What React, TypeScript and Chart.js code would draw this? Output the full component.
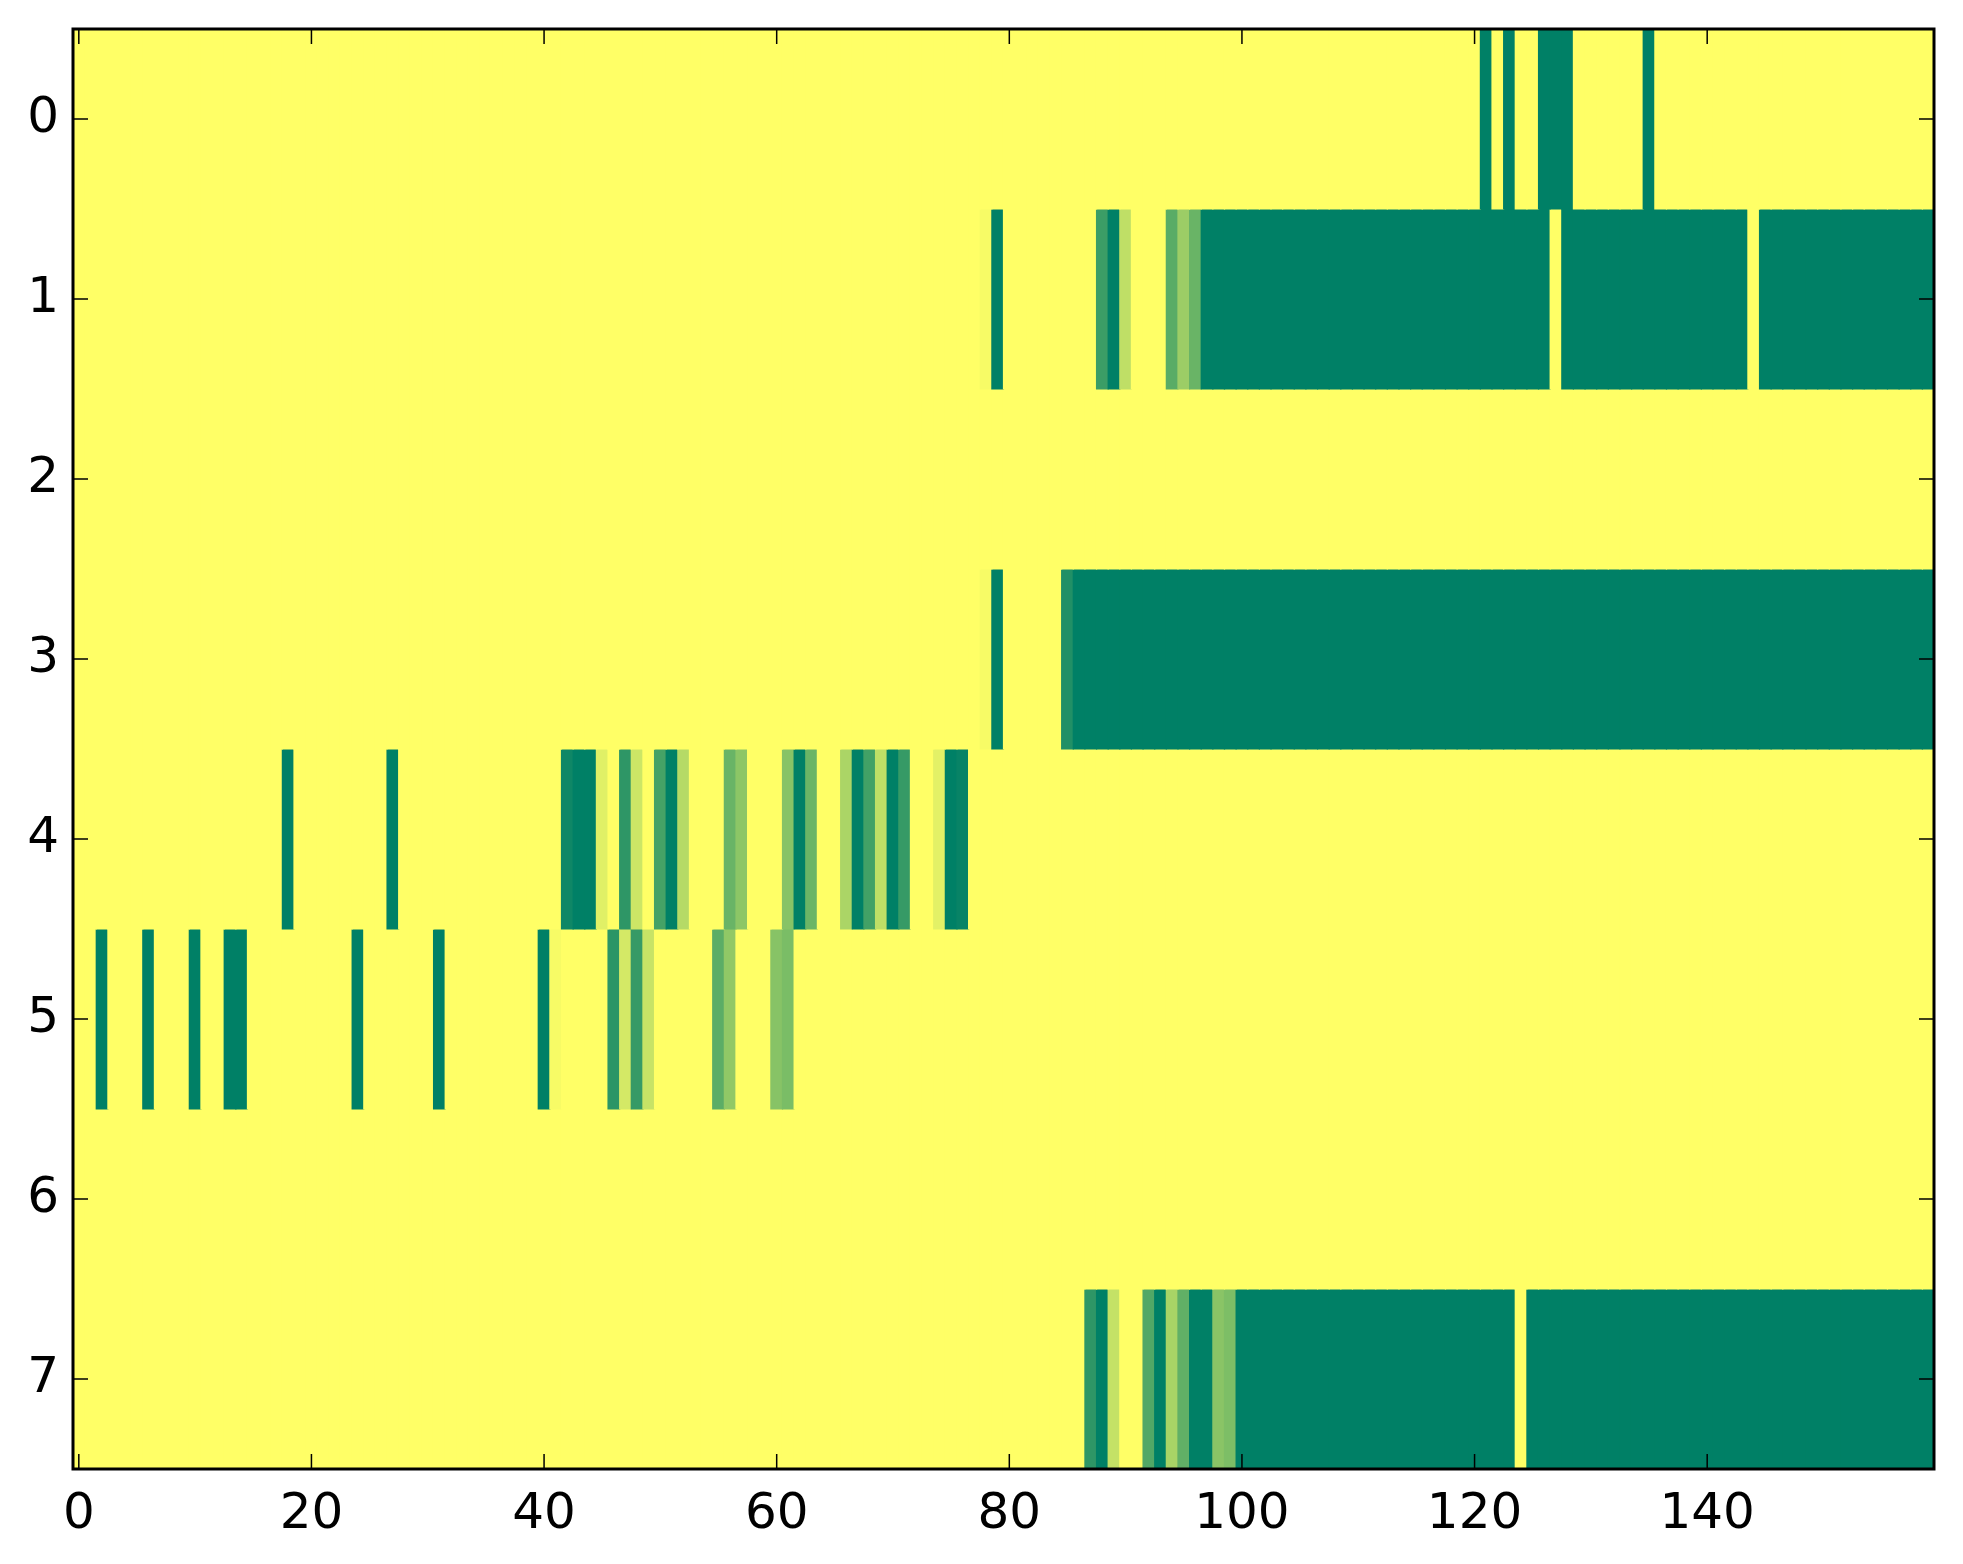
import React, { useEffect, useRef } from "react";
import { Chart, registerables } from "chart.js";

Chart.register(...registerables);

// Tick labels
const X_TICKS = [0, 20, 40, 60, 80, 100, 120, 140];
const Y_TICKS = [0, 1, 2, 3, 4, 5, 6, 7];

// Cell values per row (160 columns each), 0 = yellow, 1 = green
const row0 = [
  0,0,0,0,0,0,0,0,0,0,0,0,0,0,0,0,0,0,0,0,
  0,0,0,0,0,0,0,0,0,0,0,0,0,0,0,0,0,0,0,0,
  0,0,0,0,0,0,0,0,0,0,0,0,0,0,0,0,0,0,0,0,
  0,0,0,0,0,0,0,0,0,0,0,0,0,0,0,0,0,0,0,0,
  0,0,0,0,0,0,0,0,0,0,0,0,0,0,0,0,0,0,0,0,
  0,0,0,0,0,0,0,0,0,0,0,0,0,0,0,0,0,0,0,0,
  0,1,0,1,0,0,1,1,1,0,0,0,0,0,0,1,0,0,0,0,
  0,0,0,0,0,0,0,0,0,0,0,0,0,0,0,0,0,0,0,0,
];
const row1 = [
  0,0,0,0,0,0,0,0,0,0,0,0,0,0,0,0,0,0,0,0,
  0,0,0,0,0,0,0,0,0,0,0,0,0,0,0,0,0,0,0,0,
  0,0,0,0,0,0,0,0,0,0,0,0,0,0,0,0,0,0,0,0,
  0,0,0,0,0,0,0,0,0,0,0,0,0,0,0,0,0,0,0.03,1,
  0,0,0,0,0,0,0,0,0.77,1,0.25,0,0,0,0.65,0.39,0.59,1,1,1,
  1,1,1,1,1,1,1,1,1,1,1,1,1,1,1,1,1,1,1,1,
  1,1,1,1,1,1,1,0,1,1,1,1,1,1,1,1,1,1,1,1,
  1,1,1,1,0,1,1,1,1,1,1,1,1,1,1,1,1,1,1,1,
];
const row2 = [
  0,0,0,0,0,0,0,0,0,0,0,0,0,0,0,0,0,0,0,0,
  0,0,0,0,0,0,0,0,0,0,0,0,0,0,0,0,0,0,0,0,
  0,0,0,0,0,0,0,0,0,0,0,0,0,0,0,0,0,0,0,0,
  0,0,0,0,0,0,0,0,0,0,0,0,0,0,0,0,0,0,0,0,
  0,0,0,0,0,0,0,0,0,0,0,0,0,0,0,0,0,0,0,0,
  0,0,0,0,0,0,0,0,0,0,0,0,0,0,0,0,0,0,0,0,
  0,0,0,0,0,0,0,0,0,0,0,0,0,0,0,0,0,0,0,0,
  0,0,0,0,0,0,0,0,0,0,0,0,0,0,0,0,0,0,0,0,
];
const row3 = [
  0,0,0,0,0,0,0,0,0,0,0,0,0,0,0,0,0,0,0,0,
  0,0,0,0,0,0,0,0,0,0,0,0,0,0,0,0,0,0,0,0,
  0,0,0,0,0,0,0,0,0,0,0,0,0,0,0,0,0,0,0,0,
  0,0,0,0,0,0,0,0,0,0,0,0,0,0,0,0,0,0,0.03,1,
  0,0,0,0,0,0.87,1,1,1,1,1,1,1,1,1,1,1,1,1,1,
  1,1,1,1,1,1,1,1,1,1,1,1,1,1,1,1,1,1,1,1,
  1,1,1,1,1,1,1,1,1,1,1,1,1,1,1,1,1,1,1,1,
  1,1,1,1,1,1,1,1,1,1,1,1,1,1,1,1,1,1,1,1,
];
const row4 = [
  0,0,0,0,0,0,0,0,0,0,0,0,0,0,0,0,0,0,1,0,
  0,0,0,0,0,0,0,1,0,0,0,0,0,0,0,0,0,0,0,0,
  0,0,0.94,1,1,0.12,0,0.82,0.2,0,0.73,1,0.29,0,0,0,0.59,0.45,0,0,
  0,0.47,1,0.58,0,0,0.33,1,0.74,0.25,1,0.79,0,0,0.11,1,0.97,0,0,0,
  0,0,0,0,0,0,0,0,0,0,0,0,0,0,0,0,0,0,0,0,
  0,0,0,0,0,0,0,0,0,0,0,0,0,0,0,0,0,0,0,0,
  0,0,0,0,0,0,0,0,0,0,0,0,0,0,0,0,0,0,0,0,
  0,0,0,0,0,0,0,0,0,0,0,0,0,0,0,0,0,0,0,0,
];
const row5 = [
  0,0,1,0,0,0,1,0,0,0,1,0,0,1,1,0,0,0,0,0,
  0,0,0,0,1,0,0,0,0,0,0,1,0,0,0,0,0,0,0,0,
  1,0.03,0,0,0,0,0.83,0.17,0.79,0.22,0,0,0,0,0,0.64,0.43,0,0,0,
  0.47,0.52,0,0,0,0,0,0,0,0,0,0,0,0,0,0,0,0,0,0,
  0,0,0,0,0,0,0,0,0,0,0,0,0,0,0,0,0,0,0,0,
  0,0,0,0,0,0,0,0,0,0,0,0,0,0,0,0,0,0,0,0,
  0,0,0,0,0,0,0,0,0,0,0,0,0,0,0,0,0,0,0,0,
  0,0,0,0,0,0,0,0,0,0,0,0,0,0,0,0,0,0,0,0,
];
const row6 = [
  0,0,0,0,0,0,0,0,0,0,0,0,0,0,0,0,0,0,0,0,
  0,0,0,0,0,0,0,0,0,0,0,0,0,0,0,0,0,0,0,0,
  0,0,0,0,0,0,0,0,0,0,0,0,0,0,0,0,0,0,0,0,
  0,0,0,0,0,0,0,0,0,0,0,0,0,0,0,0,0,0,0,0,
  0,0,0,0,0,0,0,0,0,0,0,0,0,0,0,0,0,0,0,0,
  0,0,0,0,0,0,0,0,0,0,0,0,0,0,0,0,0,0,0,0,
  0,0,0,0,0,0,0,0,0,0,0,0,0,0,0,0,0,0,0,0,
  0,0,0,0,0,0,0,0,0,0,0,0,0,0,0,0,0,0,0,0,
];
const row7 = [
  0,0,0,0,0,0,0,0,0,0,0,0,0,0,0,0,0,0,0,0,
  0,0,0,0,0,0,0,0,0,0,0,0,0,0,0,0,0,0,0,0,
  0,0,0,0,0,0,0,0,0,0,0,0,0,0,0,0,0,0,0,0,
  0,0,0,0,0,0,0,0,0,0,0,0,0,0,0,0,0,0,0,0,
  0,0,0,0,0,0,0,0.82,1,0.23,0,0,0.68,1,0.34,0.62,1,1,0.46,0.51,
  1,1,1,1,1,1,1,1,1,1,1,1,1,1,1,1,1,1,1,1,
  1,1,1,1,0,1,1,1,1,1,1,1,1,1,1,1,1,1,1,1,
  1,1,1,1,1,1,1,1,1,1,1,1,1,1,1,1,1,1,1,1,
];

const ROWS = [row0, row1, row2, row3, row4, row5, row6, row7];

// matplotlib "summer_r" colormap
function summerR(v: number): string {
  const x = 1 - v;
  const r = Math.round(255 * x);
  const g = Math.round(255 * (0.5 + 0.5 * x));
  return `rgb(${r},${g},102)`;
}

const FONT = { family: "'DejaVu Sans', sans-serif", size: 50 };

export default function App() {
  const ref = useRef<HTMLCanvasElement>(null);

  useEffect(() => {
    if (!ref.current) return;
    const datasets = ROWS.map((row, r) => ({
      data: row.map((_v, c) => ({ x: [c - 0.5, c + 0.5], y: r })),
      backgroundColor: row.map(summerR),
      borderWidth: 0,
      grouped: false,
      barPercentage: 1,
      categoryPercentage: 1,
      inflateAmount: 0.6,
    }));

    const frame = {
      id: "frame",
      afterDraw(chart: any) {
        const { ctx, chartArea } = chart;
        const { left, right, top, bottom } = chartArea;
        const xs = chart.scales.x;
        const ys = chart.scales.y;
        const tl = 15;
        ctx.save();
        ctx.strokeStyle = "#000";
        ctx.lineWidth = 1.5;
        ctx.beginPath();
        X_TICKS.forEach((v) => {
          const px = xs.getPixelForValue(v);
          ctx.moveTo(px, bottom);
          ctx.lineTo(px, bottom - tl);
          ctx.moveTo(px, top);
          ctx.lineTo(px, top + tl);
        });
        Y_TICKS.forEach((v) => {
          const py = ys.getPixelForValue(v);
          ctx.moveTo(left, py);
          ctx.lineTo(left + tl, py);
          ctx.moveTo(right, py);
          ctx.lineTo(right - tl, py);
        });
        ctx.stroke();
        ctx.lineWidth = 3;
        ctx.strokeRect(left, top, right - left, bottom - top);
        ctx.restore();
      },
    };

    const chart = new Chart(ref.current, {
      type: "bar",
      data: { datasets } as any,
      options: {
        indexAxis: "y",
        responsive: false,
        animation: false,
        devicePixelRatio: 1,
        layout: { padding: { left: 0, top: 29, right: 29, bottom: 0 } },
        plugins: { legend: { display: false }, tooltip: { enabled: false } },
        scales: {
          x: {
            type: "linear",
            position: "bottom",
            min: -0.5,
            max: 159.5,
            offset: false,
            grid: { display: false },
            border: { display: false },
            afterBuildTicks: (s: any) => {
              s.ticks = X_TICKS.map((v) => ({ value: v }));
            },
            afterFit: (s: any) => {
              s.height = 95;
              s.paddingLeft = 0;
              s.paddingRight = 0;
            },
            ticks: {
              font: FONT,
              color: "#000",
              padding: 8,
              maxRotation: 0,
              autoSkip: false,
              callback: (v: any) => String(v),
            },
          },
          y: {
            type: "linear",
            position: "left",
            min: -0.5,
            max: 7.5,
            reverse: true,
            offset: false,
            grid: { display: false },
            border: { display: false },
            afterBuildTicks: (s: any) => {
              s.ticks = Y_TICKS.map((v) => ({ value: v }));
            },
            afterFit: (s: any) => {
              s.width = 73;
              s.paddingTop = 0;
              s.paddingBottom = 0;
            },
            ticks: {
              font: FONT,
              color: "#000",
              padding: 6,
              autoSkip: false,
              callback: (v: any) => String(v),
            },
          },
        },
      } as any,
      plugins: [frame],
    });
    return () => chart.destroy();
  }, []);

  return (
    <div style={{ position: "absolute", left: 0, top: 0, width: 1963, height: 1564, background: "#fff" }}>
      <canvas ref={ref} width={1963} height={1564} style={{ display: "block", width: 1963, height: 1564 }} />
    </div>
  );
}
